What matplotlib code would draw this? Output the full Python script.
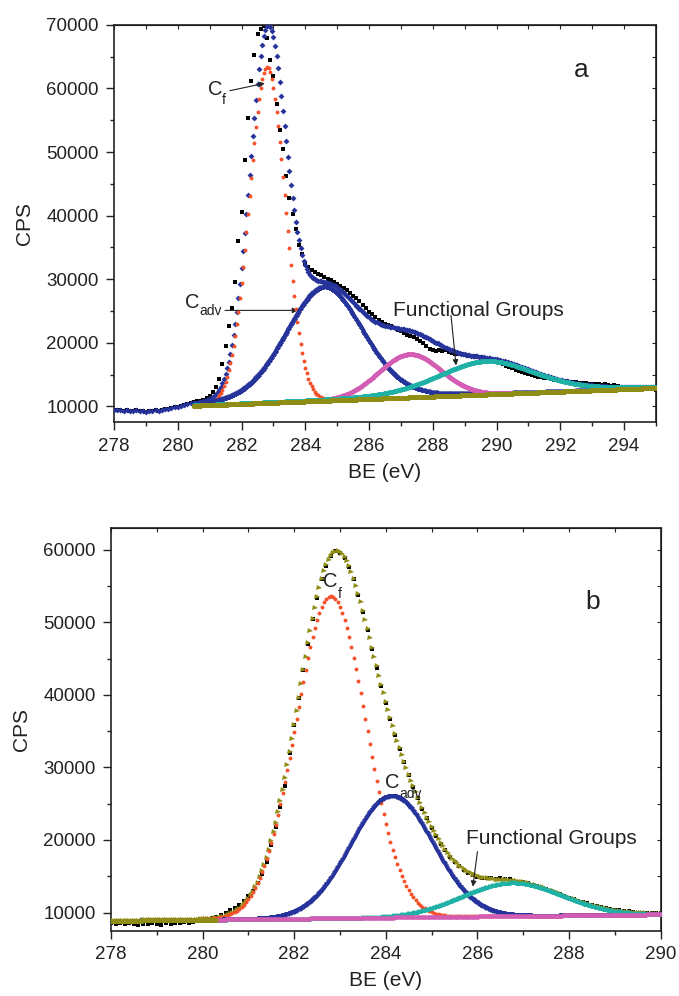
""" C1s XPS spectra with fitted components """

import matplotlib
matplotlib.use("Agg")
import matplotlib.pyplot as plt
import numpy as np
from matplotlib.ticker import MultipleLocator

plt.rcParams["font.family"] = ["Liberation Sans", "DejaVu Sans"]
plt.rcParams["text.color"] = "#222222"
plt.rcParams["axes.labelcolor"] = "#222222"
plt.rcParams["xtick.color"] = "#222222"
plt.rcParams["ytick.color"] = "#222222"

# Measured spectrum, sample a (0.1 eV steps from 278.0 to 295.0)
BE_A = np.round(np.arange(278.0, 295.0 + 1e-9, 0.1), 1)
CPS_A = [
    9450, 9380, 9420, 9350, 9480, 9300, 9260, 9390, 9220, 9310,
    9180, 9290, 9250, 9370, 9330, 9450, 9520, 9610, 9720, 9900,
    9980, 10080, 10200, 10350, 10520, 10700, 10780, 10900, 11050, 11300,
    11700, 12200, 13000, 14300, 16700, 19500, 22600, 25500, 29500, 36000,
    40600, 48800, 55300, 61200, 65300, 68500, 69400, 69800, 68000, 64500,
    62000, 57500, 53500, 50500, 46200, 42800, 40300, 37900, 35400, 33900,
    32600, 31900, 31500, 31200, 30900, 30600, 30300, 30100, 29900, 29600,
    29300, 29000, 28700, 28300, 27900, 27400, 27000, 26500, 26000, 25500,
    24900, 24500, 24000, 23600, 23300, 23000, 22800, 22600, 22300, 22000,
    21800, 21600, 21300, 21100, 20900, 20600, 20300, 19900, 19500, 19100,
    18800, 18700, 18800, 18700, 18800, 18500, 18400, 18300, 18300, 18200,
    18100, 18000, 17900, 17900, 17800, 17700, 17600, 17500, 17300, 17200,
    17000, 16800, 16600, 16400, 16200, 16000, 15800, 15600, 15400, 15200,
    15100, 14900, 14800, 14700, 14600, 14500, 14400, 14300, 14200, 14100,
    14050, 14000, 13950, 13900, 13850, 13800, 13750, 13700, 13650, 13600,
    13550, 13600, 13450, 13400, 13450, 13300, 13250, 13300, 13150, 13100,
    13050, 13100, 12950, 12900, 12950, 12850, 12800, 12850, 12700, 12750,
    12600,
]

# Measured spectrum, sample b (0.1 eV steps from 278.0 to 290.0)
BE_B = np.round(np.arange(278.0, 290.0 + 1e-9, 0.1), 1)
CPS_B = [
    8600, 8450, 8500, 8380, 8550, 8420, 8300, 8480, 8350, 8520,
    8400, 8300, 8560, 8450, 8600, 8500, 8650, 8580, 8700, 8820,
    8990, 9100, 9250, 9420, 9650, 9950, 10300, 10650, 11100, 11650,
    12300, 13000, 14000, 15300, 17000, 19300, 21800, 24500, 27400, 32000,
    35800, 39600, 43400, 47000, 50400, 53400, 55900, 57800, 59100, 59800,
    59600, 58900, 57600, 55900, 53800, 51400, 48900, 46300, 43700, 41200,
    38900, 36700, 34500, 32500, 30700, 28900, 27300, 25800, 24300, 23000,
    21700, 20500, 19500, 18600, 17700, 17000, 16400, 15900, 15500, 15200,
    14950, 14800, 14750, 14700, 14650, 14700, 14600, 14550, 14400, 14250,
    14150, 14000, 13850, 13650, 13400, 13200, 12950, 12700, 12500, 12250,
    12050, 11800, 11600, 11450, 11250, 11100, 10900, 10800, 10650, 10550,
    10400, 10350, 10200, 10150, 10050, 10000, 9950, 10000, 9900, 9950,
    9900,
]

# Fitted components: centre (eV), FWHM (eV), height above background (CPS),
# Lorentzian fraction of the pseudo-Voigt line shape
CENTER_A = [282.8, 284.6, 287.27, 289.67]
FWHM_A = [1.32, 2.9, 2.3, 3.6]
HEIGHT_A = [52800, 18000, 6800, 5260]
LMIX_A = [0.0, 0.15, 0.0, 0.3]
BACKGROUND_A = [(280.5, 10100), (295.0, 12900)]

CENTER_B = [282.8, 284.13, 286.75]
FWHM_B = [1.8, 2.1, 2.6]
HEIGHT_B = [44420, 16730, 4640]
LMIX_B = [0.0, 0.0, 0.0]
BACKGROUND_B = [(278.0, 8850), (290.0, 9750)]

RED = "#f4522a"
NAVY = "#26339a"
MAGENTA = "#d45db4"
TEAL = "#1fb0a6"
OLIVE = "#8f8d16"


def pseudo_voigt(energy, center, fwhm, height, lmix):
    """ Returns a Gaussian-Lorentzian line shape """
    x = (energy - center) / fwhm
    gauss = np.exp(-4 * np.log(2) * x**2)
    lorentz = 1 / (1 + 4 * x**2)
    return height * ((1 - lmix) * gauss + lmix * lorentz)


def background(energy, ends):
    """ Returns the linear background through both end points """
    (e0, c0), (e1, c1) = ends
    return c0 + (c1 - c0) * (energy - e0) / (e1 - e0)


def style_axes(ax, xlim, ylim):
    """ Origin-like frame: outer ticks bottom/left, inner ticks top/right """
    ax.set_xlim(*xlim)
    ax.set_ylim(*ylim)
    ax.xaxis.set_major_locator(MultipleLocator(2))
    ax.xaxis.set_minor_locator(MultipleLocator(1))
    ax.yaxis.set_major_locator(MultipleLocator(10000))
    ax.yaxis.set_minor_locator(MultipleLocator(5000))
    ax.tick_params(which="both", direction="out", top=False, right=False,
                   labelsize=13.5, width=1.0)
    ax.tick_params(which="major", length=6)
    ax.tick_params(which="minor", length=3)
    ax.tick_params(axis="x", which="major", pad=5)
    ax.tick_params(axis="y", which="major", pad=5)
    for spine in ax.spines.values():
        spine.set_linewidth(1.2)
        spine.set_color("#222222")

    # mirrored inward ticks on top and right
    top = ax.secondary_xaxis("top")
    top.xaxis.set_major_locator(MultipleLocator(1))
    top.tick_params(direction="in", length=3, labeltop=False, width=0.8)
    right = ax.secondary_yaxis("right")
    right.yaxis.set_major_locator(MultipleLocator(5000))
    right.tick_params(direction="in", length=3, labelright=False, width=0.8)

    ax.set_xlabel("BE (eV)", fontsize=15, labelpad=6)
    ax.set_ylabel("CPS", fontsize=15, labelpad=9)


def label_with_sub(ax, x, y, main, sub, dx, dy):
    """ Writes a species name with a lowered subscript """
    ax.text(x, y, main, ha="left", va="center", fontsize=14.5)
    ax.annotate(sub, xy=(x, y), xytext=(dx, dy), textcoords="offset points",
                ha="left", va="center", fontsize=10)


ARROW = dict(arrowstyle="-|>", color="#222222", lw=0.8, mutation_scale=8,
             shrinkA=0, shrinkB=0)

fig = plt.figure(figsize=(6.79, 9.96), dpi=100)
ax_a = fig.add_axes([0.168, 0.576, 0.798, 0.399])
ax_b = fig.add_axes([0.1635, 0.0656, 0.8095, 0.4044])

# ---- sample a ----
grid = np.round(np.arange(280.5, 295.0 + 1e-9, 0.05), 2)
fine = np.arange(280.5, 295.0 + 1e-9, 0.015)
base_grid = background(grid, BACKGROUND_A)
base_fine = background(fine, BACKGROUND_A)
envelope = base_grid.copy()
for c, w, h, m in zip(CENTER_A, FWHM_A, HEIGHT_A, LMIX_A):
    envelope += pseudo_voigt(grid, c, w, h, m)

be_a = np.asarray(BE_A)
cps_a = np.asarray(CPS_A)
ax_a.plot(be_a, cps_a, "s", color="black", ms=2.8, mew=0, zorder=2)
left = be_a < 280.5
ax_a.plot(be_a[left], cps_a[left], "D", color=NAVY, ms=3.0, mew=0, zorder=3)
ax_a.plot(grid, envelope, "D", color=NAVY, ms=3.0, mew=0, zorder=3)
ax_a.plot(grid, base_grid + pseudo_voigt(grid, CENTER_A[0], FWHM_A[0],
                                         HEIGHT_A[0], LMIX_A[0]),
          "o", color=RED, ms=2.8, mew=0, zorder=4)
ax_a.plot(fine, base_fine + pseudo_voigt(fine, CENTER_A[1], FWHM_A[1],
                                         HEIGHT_A[1], LMIX_A[1]),
          "^", color=NAVY, ms=3.6, mew=0, zorder=4)
ax_a.plot(fine, base_fine + pseudo_voigt(fine, CENTER_A[2], FWHM_A[2],
                                         HEIGHT_A[2], LMIX_A[2]),
          "o", color=MAGENTA, ms=3.0, mew=0, zorder=5)
ax_a.plot(fine, base_fine + pseudo_voigt(fine, CENTER_A[3], FWHM_A[3],
                                         HEIGHT_A[3], LMIX_A[3]),
          "o", color=TEAL, ms=3.0, mew=0, zorder=5)
ax_a.plot(fine, base_fine, "o", color=OLIVE, ms=3.6, mew=0, zorder=6)

style_axes(ax_a, (278, 295), (7500, 70000))

label_with_sub(ax_a, 280.94, 59870, "C", "f", 10.3, -7.5)
ax_a.annotate("", xy=(282.73, 60820), xytext=(281.63, 59650), arrowprops=ARROW)
label_with_sub(ax_a, 280.22, 26420, "C", "adv", 10.3, -6.5)
ax_a.annotate("", xy=(283.77, 25100), xytext=(281.48, 25100), arrowprops=ARROW)
ax_a.text(286.74, 25110, "Functional Groups", ha="left", va="center",
          fontsize=15)
ax_a.annotate("", xy=(288.73, 16450), xytext=(288.57, 24330), arrowprops=ARROW)
ax_a.text(292.67, 62860, "a", ha="center", va="center", fontsize=19)

# ---- sample b ----
grid = np.round(np.arange(278.0, 290.0 + 1e-9, 0.05), 2)
fine = np.arange(278.0, 290.0 + 1e-9, 0.012)
base_grid = background(grid, BACKGROUND_B)
base_fine = background(fine, BACKGROUND_B)
envelope = base_grid.copy()
for c, w, h, m in zip(CENTER_B, FWHM_B, HEIGHT_B, LMIX_B):
    envelope += pseudo_voigt(grid, c, w, h, m)

ax_b.plot(BE_B, CPS_B, "s", color="black", ms=2.8, mew=0, zorder=2)
ax_b.plot(grid, envelope, ">", color=OLIVE, ms=3.6, mew=0, zorder=3)
ax_b.plot(grid, base_grid + pseudo_voigt(grid, CENTER_B[0], FWHM_B[0],
                                         HEIGHT_B[0], LMIX_B[0]),
          "o", color=RED, ms=2.8, mew=0, zorder=4)
ax_b.plot(fine, base_fine + pseudo_voigt(fine, CENTER_B[1], FWHM_B[1],
                                         HEIGHT_B[1], LMIX_B[1]),
          "v", color=NAVY, ms=3.4, mew=0, zorder=4)
ax_b.plot(fine, base_fine + pseudo_voigt(fine, CENTER_B[2], FWHM_B[2],
                                         HEIGHT_B[2], LMIX_B[2]),
          "^", color=TEAL, ms=3.2, mew=0, zorder=5)
ax_b.plot(fine, base_fine, "o", color=MAGENTA, ms=2.8, mew=0, zorder=6)
ax_b.plot(fine[fine < 280.3], (base_fine[fine < 280.3]), "o", color=OLIVE,
          ms=3.2, mew=0, zorder=6)

style_axes(ax_b, (278, 290), (7500, 63000))

label_with_sub(ax_b, 282.63, 55660, "C", "f", 10.8, -9)
label_with_sub(ax_b, 283.99, 27910, "C", "adv", 10.3, -8.5)
ax_b.text(285.76, 20230, "Functional Groups", ha="left", va="center",
          fontsize=15)
ax_b.annotate("", xy=(285.9, 13570), xytext=(286.0, 18390), arrowprops=ARROW)
ax_b.text(288.51, 52790, "b", ha="center", va="center", fontsize=19)

fig.savefig("out.png", dpi=100)
